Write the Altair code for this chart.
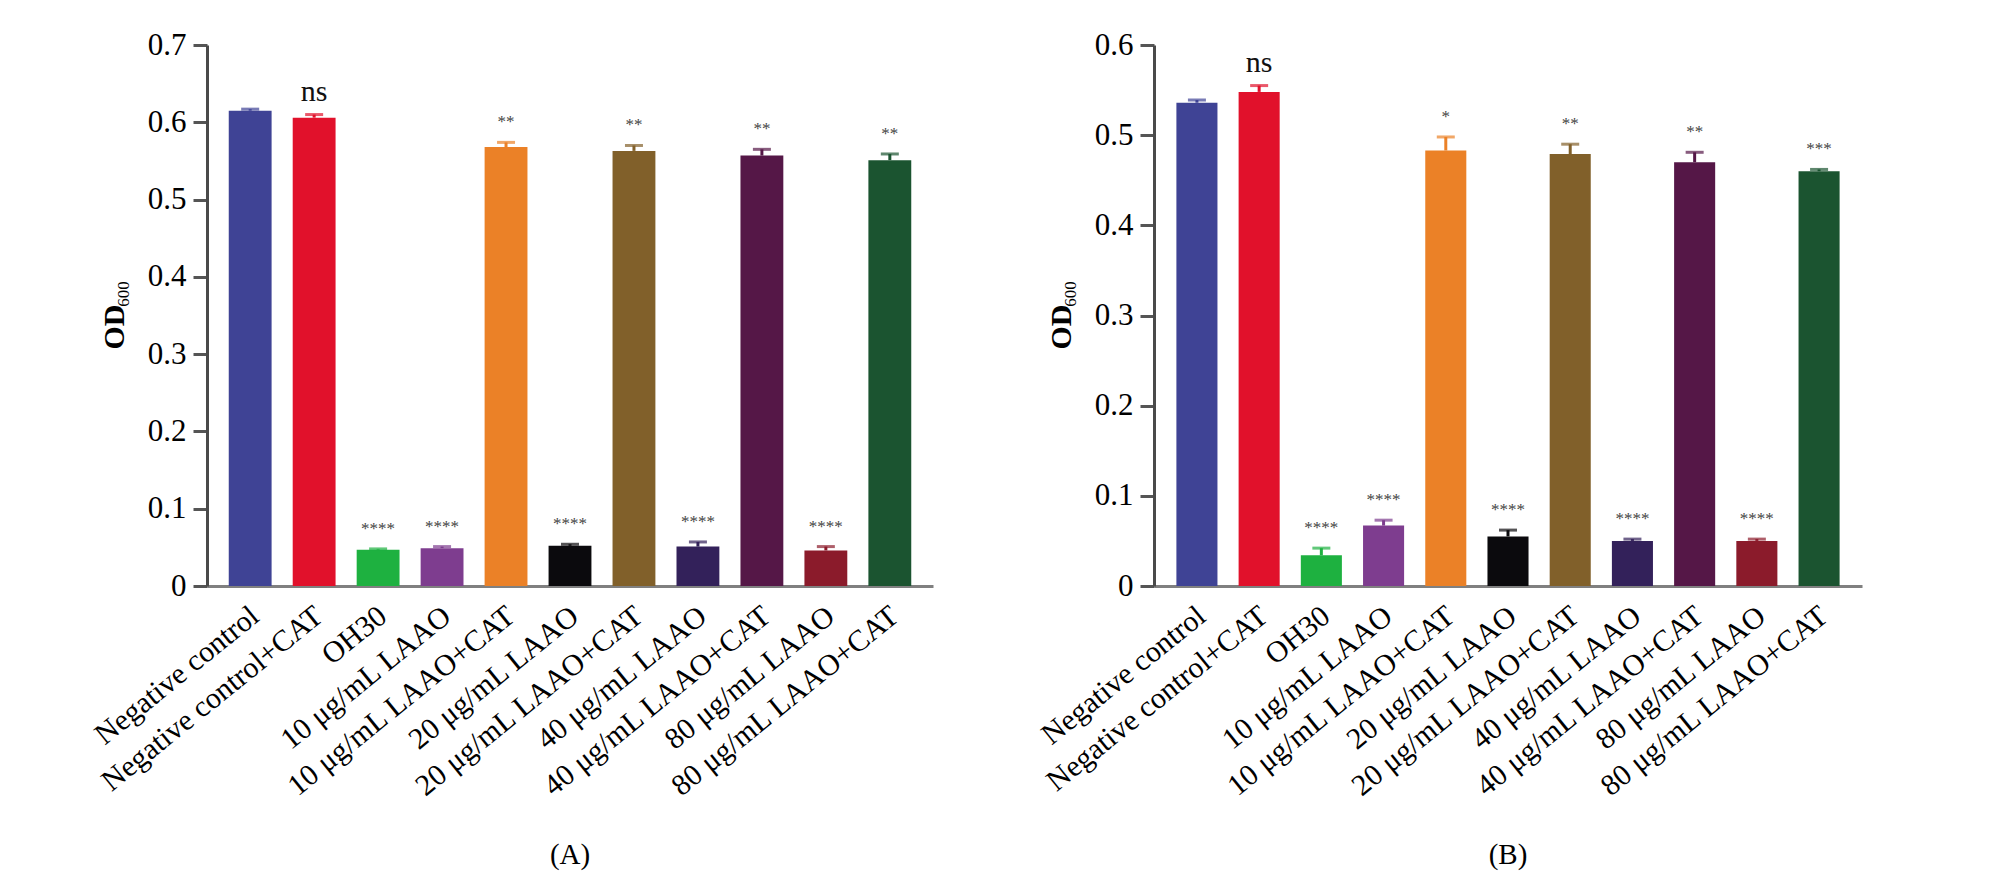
import altair as alt
import pandas as pd

categories = [
    "Negative control",
    "Negative control+CAT",
    "OH30",
    "10 μg/mL LAAO",
    "10 μg/mL LAAO+CAT",
    "20 μg/mL LAAO",
    "20 μg/mL LAAO+CAT",
    "40 μg/mL LAAO",
    "40 μg/mL LAAO+CAT",
    "80 μg/mL LAAO",
    "80 μg/mL LAAO+CAT",
]
colors = [
    "#3f4395", "#e1112b", "#1eb140", "#7e3d8f", "#eb8127", "#0b0a0d",
    "#81602a", "#33215a", "#551747", "#8b1b2b", "#1b5430",
]

a_values = [0.615, 0.606, 0.047, 0.049, 0.568, 0.052, 0.563, 0.051, 0.557, 0.046, 0.551]
a_errors = [0.002, 0.004, 0.001, 0.002, 0.006, 0.002, 0.007, 0.006, 0.008, 0.005, 0.008]
a_marks = ["", "ns", "****", "****", "**", "****", "**", "****", "**", "****", "**"]

b_values = [0.536, 0.548, 0.034, 0.067, 0.483, 0.055, 0.479, 0.050, 0.470, 0.050, 0.460]
b_errors = [0.003, 0.007, 0.008, 0.006, 0.015, 0.007, 0.011, 0.002, 0.011, 0.002, 0.002]
b_marks = ["", "ns", "****", "****", "*", "****", "**", "****", "**", "****", "***"]

a_ticks = [0, 0.1, 0.2, 0.3, 0.4, 0.5, 0.6, 0.7]
b_ticks = [0, 0.1, 0.2, 0.3, 0.4, 0.5, 0.6]

FONT = "Liberation Serif"


def panel(values, errors, marks, ticks, width, height, p_inner, p_outer, caption):
    df = pd.DataFrame({"group": categories, "od": values, "err": errors, "sig": marks})
    df["top"] = df["od"] + df["err"]

    x_enc = alt.X(
        "group:N",
        sort=categories,
        scale=alt.Scale(paddingInner=p_inner, paddingOuter=p_outer),
        axis=alt.Axis(
            title=None, labelAngle=-39, labelAlign="right", labelBaseline="middle",
            labelFont=FONT, labelFontSize=30, labelColor="#000000", labelPadding=26,
            labelOffset=5, labelLimit=600, ticks=False, domainColor="#808080", domainWidth=3,
        ),
    )
    y_scale = alt.Scale(domain=[0, ticks[-1]], nice=False, zero=True)
    y_axis = alt.Axis(
        title=None, values=ticks, grid=False,
        labelExpr="datum.value == 0 ? '0' : format(datum.value, '.1f')",
        labelFont=FONT, labelFontSize=31, labelColor="#000000", labelPadding=7,
        tickSize=14, tickWidth=3, tickColor="#555555",
        domainColor="#4a4a4a", domainWidth=3,
    )
    color = alt.Color("group:N", scale=alt.Scale(domain=categories, range=colors), legend=None)

    base = alt.Chart(df)
    bars = base.mark_bar().encode(
        x=x_enc, y=alt.Y("od:Q", scale=y_scale, axis=y_axis), color=color
    )
    stem = base.mark_rule(strokeWidth=3).encode(
        x=x_enc, y=alt.Y("od:Q", scale=y_scale, axis=y_axis), y2="top:Q", color=color
    )
    cap = base.mark_tick(size=18, thickness=3).encode(
        x=x_enc, y=alt.Y("top:Q", scale=y_scale, axis=y_axis), color=color
    )
    ns = base.transform_filter("datum.sig == 'ns'").mark_text(
        font=FONT, fontSize=30, color="#111111", baseline="alphabetic", dy=-14
    ).encode(x=x_enc, y=alt.Y("top:Q", scale=y_scale, axis=y_axis), text="sig:N")
    stars = base.transform_filter("datum.sig != 'ns' && datum.sig != ''").mark_text(
        font=FONT, fontSize=17, color="#444444", baseline="alphabetic", dy=-15
    ).encode(x=x_enc, y=alt.Y("top:Q", scale=y_scale, axis=y_axis), text="sig:N")

    t_od = alt.Chart(pd.DataFrame({"t": ["OD"]})).mark_text(
        font=FONT, fontSize=30, fontWeight="bold", angle=270, color="#000000",
        align="center", baseline="middle",
    ).encode(x=alt.value(-92), y=alt.value(282), text="t:N")
    t_sub = alt.Chart(pd.DataFrame({"t": ["600"]})).mark_text(
        font=FONT, fontSize=17, angle=270, color="#000000",
        align="center", baseline="middle",
    ).encode(x=alt.value(-83), y=alt.value(249), text="t:N")
    cap_text = alt.Chart(pd.DataFrame({"t": [caption]})).mark_text(
        font=FONT, fontSize=29, color="#000000", align="center", baseline="middle",
    ).encode(x=alt.value(width / 2), y=alt.value(810), text="t:N")
    # invisible anchor fixing the page position of the plot area
    anchor = alt.Chart(pd.DataFrame({"t": [""]})).mark_point(
        opacity=0, size=1, filled=True
    ).encode(x=alt.value(-198.5), y=alt.value(-36.5))

    return alt.layer(bars, stem, cap, ns, stars, t_od, t_sub, cap_text, anchor).properties(
        width=width, height=height
    )


panel_a = panel(a_values, a_errors, a_marks, a_ticks, 726, 541, 0.33, 0.34, "(A)")
panel_b = panel(b_values, b_errors, b_marks, b_ticks, 708, 541, 0.34, 0.36, "(B)")

chart = (
    alt.hconcat(panel_a, panel_b, spacing=221, bounds="flush")
    .properties(padding={"left": 0, "top": 0, "right": 5, "bottom": 5}, background="#ffffff")
    .configure_view(stroke=None)
)

chart.save("out.html", embed_options={"renderer": "svg", "actions": False})
